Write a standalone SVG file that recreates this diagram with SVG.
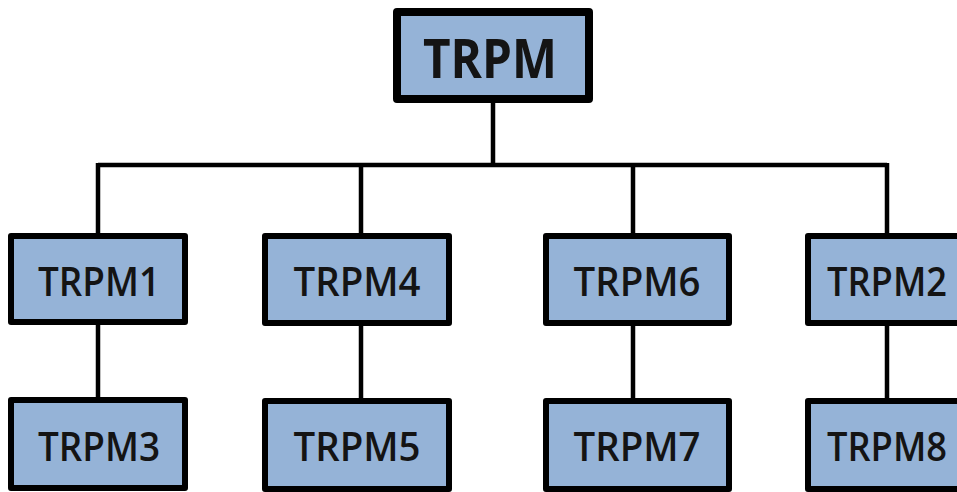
<svg xmlns="http://www.w3.org/2000/svg" width="957" height="492" viewBox="0 0 957 492">
<style>
.box{fill:#95b3d7;stroke:#000;stroke-width:6;stroke-linejoin:round}
.top{stroke-width:8}
.lbl{font-family:"Open Sans","Liberation Sans",sans-serif;font-size:40px;font-weight:600;fill:#141414;text-anchor:middle}
.big{font-size:53px;font-weight:bold}
.conn{stroke:#000;stroke-width:4.5;fill:none}
</style>
<rect width="957" height="492" fill="#ffffff"/>
<g id="connectors">
<path class="conn" d="M493 103V165M98 165H887M98 163V236M361 163V236M633 163V236M887 163V236"/>
<path class="conn" d="M98 322V400M361 322V400M633 322V400M887 322V400"/>
</g>
<g id="TRPM"><rect class="box top" x="397" y="12" width="192" height="87"/><text class="lbl big" x="490" y="78" textLength="134" lengthAdjust="spacingAndGlyphs">TRPM</text></g>
<g id="TRPM1"><rect class="box" x="11" y="236" width="174" height="86"/><text class="lbl" x="99" y="296" textLength="122" lengthAdjust="spacingAndGlyphs">TRPM1</text></g>
<g id="TRPM4"><rect class="box" x="265" y="236" width="184" height="87"/><text class="lbl" x="357" y="296" textLength="127" lengthAdjust="spacingAndGlyphs">TRPM4</text></g>
<g id="TRPM6"><rect class="box" x="546" y="236" width="183" height="87"/><text class="lbl" x="637" y="296" textLength="127" lengthAdjust="spacingAndGlyphs">TRPM6</text></g>
<g id="TRPM2"><rect class="box" x="808" y="236" width="184" height="87"/><text class="lbl" x="887" y="296" textLength="120" lengthAdjust="spacingAndGlyphs">TRPM2</text></g>
<g id="TRPM3"><rect class="box" x="11" y="400" width="174" height="88"/><text class="lbl" x="99" y="461" textLength="122" lengthAdjust="spacingAndGlyphs">TRPM3</text></g>
<g id="TRPM5"><rect class="box" x="265" y="401" width="184" height="88"/><text class="lbl" x="357" y="461" textLength="127" lengthAdjust="spacingAndGlyphs">TRPM5</text></g>
<g id="TRPM7"><rect class="box" x="546" y="401" width="183" height="88"/><text class="lbl" x="637" y="461" textLength="127" lengthAdjust="spacingAndGlyphs">TRPM7</text></g>
<g id="TRPM8"><rect class="box" x="808" y="401" width="184" height="88"/><text class="lbl" x="887" y="461" textLength="120" lengthAdjust="spacingAndGlyphs">TRPM8</text></g>
</svg>
